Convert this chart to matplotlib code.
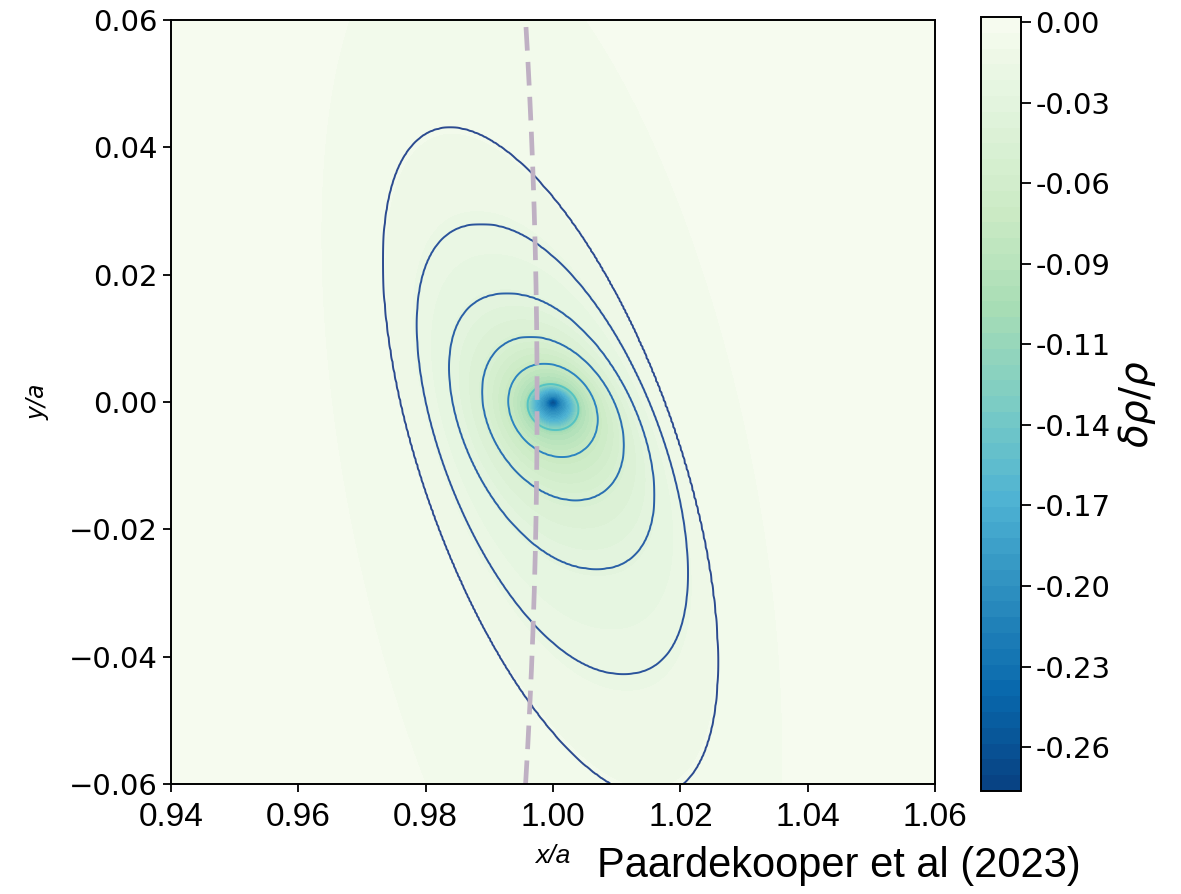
import numpy as np
import matplotlib
matplotlib.use('Agg')
import matplotlib.pyplot as plt

# Shape of the contour rings around the density dip, from the core outwards:
# half width in x, centre, half height in y, tilt and squareness of each ring
ring_hw = [0.0, 0.0040, 0.0070, 0.0111, 0.0160, 0.0211, 0.0263, 0.0340, 0.1000]
ring_xc = [1.0, 1.0000, 1.0000, 1.0000, 0.9998, 0.9999, 0.9996, 0.9998, 0.9998]
ring_yc = [0.0, -0.0008, -0.0013, -0.0026, -0.0046, -0.0074, -0.0094, -0.0140, -0.0200]
ring_hh = [0.0, 0.0036, 0.0073, 0.0128, 0.0216, 0.0353, 0.0525, 0.0850, 0.2500]
ring_rho = [0.0, -0.10, -0.20, -0.32, -0.44, -0.53, -0.60, -0.45, -0.30]
ring_p = [2.0, 2.0, 2.0, 2.05, 2.15, 2.15, 2.0, 2.0, 2.0]

# delta rho / rho against ring size
profile_s = [0.0, 0.0012, 0.0030, 0.0040, 0.0045, 0.0070, 0.0111, 0.0160,
             0.0211, 0.0263, 0.0340, 0.1000]
profile_v = [-0.272, -0.21, -0.16, -0.12, -0.095, -0.07, -0.045, -0.027,
             -0.016, -0.009, -0.004, 0.0018]

line_levels = [-0.12, -0.07, -0.045, -0.027, -0.016, -0.009]
line_colors = ['#55c3c2', '#2c84c0', '#2a6fb2', '#2a60a6', '#2b549b', '#2c4b90']

cbar_ticks = [-k * 0.2 / 7 for k in range(10)]
vmin, vmax = -0.2727, 0.0018

# circle r = r0 drawn as a dashed line
r0 = 0.9975

x = np.linspace(0.94, 1.06, 401)
y = np.linspace(-0.06, 0.06, 401)
X, Y = np.meshgrid(x, y)


def ring_q(s):
    hw = np.interp(s, ring_hw, ring_hw)
    xc = np.interp(s, ring_hw, ring_xc)
    yc = np.interp(s, ring_hw, ring_yc)
    hh = np.interp(s, ring_hw, ring_hh)
    rho = np.interp(s, ring_hw, ring_rho)
    p = np.interp(s, ring_hw, ring_p)
    u = (X - xc) / hw
    v = (Y - yc) / hh
    a = (u - rho * v) / np.sqrt(1 - rho**2)
    return np.abs(a)**p + v**2


# ring size through every grid point, by bisection
lo = np.full(X.shape, 1e-5)
hi = np.full(X.shape, ring_hw[-1])
for _ in range(45):
    mid = 0.5 * (lo + hi)
    inside = ring_q(mid) < 1
    hi = np.where(inside, mid, hi)
    lo = np.where(inside, lo, mid)
S = 0.5 * (lo + hi)
Z = np.interp(S, profile_s, profile_v)

fig = plt.figure(figsize=(11.81, 8.94), dpi=100)
ax = fig.add_axes([0.1448, 0.1230, 0.6469, 0.8546])
cax = fig.add_axes([0.8306, 0.1152, 0.0339, 0.8658])

levels = np.linspace(vmin, vmax, 50)
cf = ax.contourf(X, Y, Z, levels=levels, cmap='GnBu_r', vmin=vmin, vmax=vmax)
ax.contour(X, Y, Z, levels=line_levels, colors=line_colors, linewidths=1.4)

yy = np.linspace(-0.06, 0.06, 200)
ax.plot(np.sqrt(r0**2 - yy**2), yy, color='#bfb0c3', lw=3.4,
        linestyle=(0, (5, 2.4)))

ax.set_xlim(0.94, 1.06)
ax.set_ylim(-0.06, 0.06)
ax.set_xticks([0.94, 0.96, 0.98, 1.00, 1.02, 1.04, 1.06])
ax.set_yticks([-0.06, -0.04, -0.02, 0.0, 0.02, 0.04, 0.06])
ax.tick_params(axis='y', labelsize=21, length=6, width=1.3)
ax.tick_params(axis='x', length=6, width=1.3, pad=7)
for lab in ax.get_xticklabels():
    lab.set_family('Liberation Sans')
    lab.set_fontsize(24)
for sp in ax.spines.values():
    sp.set_linewidth(1.4)

ax.set_ylabel('y/a', fontsize=17, style='italic', labelpad=14)
fig.text(553 / 1181, 1 - 856 / 894, 'x/a', fontsize=19, style='italic',
         family='Liberation Sans', ha='center', va='center')
fig.text(597 / 1181, 1 - 866 / 894, 'Paardekooper et al (2023)', fontsize=30,
         family='Liberation Sans', ha='left', va='center')

cb = fig.colorbar(cf, cax=cax, ticks=cbar_ticks)
cb.ax.set_yticklabels(['%.2f' % abs(t) if k == 0 else '%.2f' % t
                       for k, t in enumerate(cbar_ticks)])
cb.ax.tick_params(labelsize=21, length=7, width=1.3)
cb.outline.set_linewidth(1.4)
cb.set_label(r'$\delta\rho/\rho$', fontsize=28, labelpad=4)

fig.savefig('out.png', dpi=100)
